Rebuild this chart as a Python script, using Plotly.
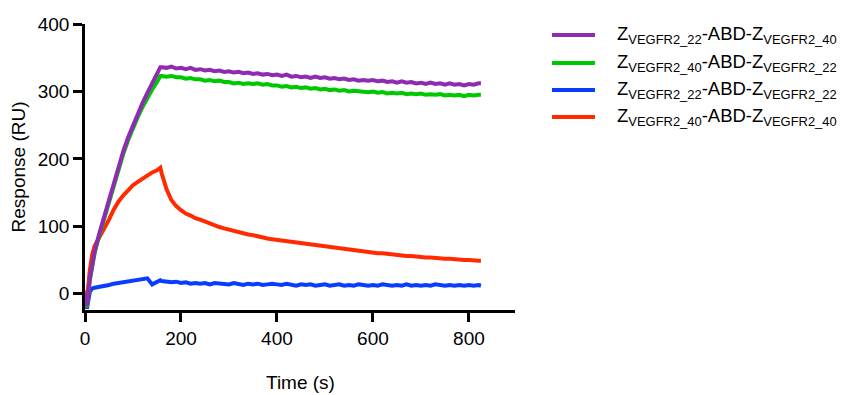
import plotly.graph_objects as go

time_s = [0, 4, 10, 15, 20, 30, 40, 50, 60, 70, 80, 90, 100, 110, 120, 130, 140, 150, 157,
          160, 170, 180, 190, 200, 210, 220, 230, 240, 250, 260, 270, 280, 290, 300,
          310, 320, 330, 340, 350, 360, 370, 380, 390, 400, 410, 420, 430, 440, 450,
          460, 470, 480, 490, 500, 510, 520, 530, 540, 550, 560, 570, 580, 590, 600,
          610, 620, 630, 640, 650, 660, 670, 680, 690, 700, 710, 720, 730, 740, 750,
          760, 770, 780, 790, 800, 810, 820, 825]

purple_22_40 = [0, -18, 22, 45, 63, 90, 115, 141, 166, 190, 212, 232, 250, 267, 283, 298, 311, 324, 336,
                336, 335, 337, 334, 335, 333, 335, 332, 333, 331, 332, 330, 331, 329, 330,
                328, 329, 327, 328, 326, 327, 325, 326, 324, 325, 323, 325, 322, 323, 321,
                322, 320, 322, 320, 321, 319, 320, 318, 319, 317, 318, 316, 317, 316, 317,
                315, 316, 314, 315, 313, 315, 313, 314, 312, 313, 311, 313, 311, 312, 310,
                312, 310, 311, 309, 311, 310, 312, 312]

green_40_22 = [-3, -20, 20, 43, 60, 87, 112, 137, 162, 186, 208, 228, 246, 262, 277, 291, 303, 314, 323,
               323, 322, 323, 321, 321, 319, 320, 318, 318, 316, 317, 315, 316, 314, 314,
               312, 313, 311, 312, 311, 312, 310, 311, 309, 309, 307, 308, 306, 307, 305,
               306, 304, 305, 303, 304, 302, 303, 301, 302, 300, 301, 300, 300, 299, 300,
               298, 299, 297, 298, 297, 298, 296, 297, 296, 297, 295, 296, 295, 296, 294,
               295, 294, 295, 293, 295, 294, 295, 295]

blue_22_22 = [-5, -22, 3, 8, 9, 10, 11, 13, 15, 16, 18, 19, 20, 21, 21, 23, 14, 18, 20,
              19, 18, 17, 18, 16, 17, 15, 16, 15, 16, 14, 16, 15, 15, 14,
              16, 15, 13, 15, 14, 15, 13, 14, 15, 14, 13, 15, 14, 12, 14,
              13, 14, 12, 13, 14, 12, 13, 14, 12, 13, 12, 14, 13, 12, 13,
              12, 14, 13, 12, 13, 12, 14, 12, 13, 12, 13, 12, 14, 13, 12,
              13, 12, 13, 12, 13, 12, 13, 12]

red_40_40 = [5, -8, 35, 58, 71, 84, 95, 110, 125, 137, 146, 154, 161, 166, 171, 176, 180, 183, 187,
             178, 155, 139, 130, 124, 119, 116, 112, 110, 107, 104, 101, 99, 97, 95,
             94, 92, 90, 88, 87, 85, 84, 82, 81, 80, 79, 78, 77, 76, 75,
             74, 73, 72, 71, 70, 69, 68, 67, 66, 65, 64, 63, 62, 62, 61,
             60, 60, 59, 58, 58, 57, 56, 56, 55, 55, 54, 54, 53, 53, 52,
             52, 51, 51, 50, 50, 49, 49, 49]

series_names = [
    "Z<sub>VEGFR2_22</sub>-ABD-Z<sub>VEGFR2_40</sub>",
    "Z<sub>VEGFR2_40</sub>-ABD-Z<sub>VEGFR2_22</sub>",
    "Z<sub>VEGFR2_22</sub>-ABD-Z<sub>VEGFR2_22</sub>",
    "Z<sub>VEGFR2_40</sub>-ABD-Z<sub>VEGFR2_40</sub>",
]
series_values = [purple_22_40, green_40_22, blue_22_22, red_40_40]
series_colors = ["#8E2BB2", "#00C800", "#0A3CFF", "#FF2A00"]

x_ticks = [0, 200, 400, 600, 800]
y_ticks = [0, 100, 200, 300, 400]
x_title = "Time (s)"
y_title = "Response (RU)"

FONT = "Liberation Sans, Arial, sans-serif"

fig = go.Figure()
# draw order: blue, red, green, purple (purple on top)
for i in [2, 3, 1, 0]:
    fig.add_trace(go.Scatter(
        x=time_s, y=series_values[i], mode="lines",
        line=dict(color=series_colors[i], width=4),
        name=series_names[i], showlegend=False,
    ))

# manual legend (shapes + annotations) to match the reference layout
leg_y = [0.9615, 0.8636, 0.769, 0.675]
for i in range(4):
    fig.add_shape(type="line", xref="paper", yref="paper",
                  x0=1.086, x1=1.186, y0=leg_y[i], y1=leg_y[i],
                  line=dict(color=series_colors[i], width=4))
    fig.add_annotation(xref="paper", yref="paper", x=1.233, y=leg_y[i],
                       xanchor="left", yanchor="middle", showarrow=False,
                       text=series_names[i],
                       font=dict(family=FONT, size=18.5, color="black"))

# x-axis title placed as an annotation for exact vertical position
fig.add_annotation(xref="paper", yref="paper", x=0.5, y=-0.255,
                   xanchor="center", yanchor="middle", showarrow=False,
                   text=x_title, font=dict(family=FONT, size=19, color="black"))

axis_common = dict(
    showline=True, linecolor="black", linewidth=2.5,
    ticks="outside", ticklen=9, tickwidth=2.5, tickcolor="black",
    showgrid=False, zeroline=False, automargin=False,
    tickfont=dict(family=FONT, size=19, color="black"),
)

fig.update_xaxes(range=[0, 896], tickvals=x_ticks, ticktext=[str(v) for v in x_ticks],
                 **axis_common)
fig.update_yaxes(range=[-24, 400], tickvals=y_ticks, ticktext=[str(v) for v in y_ticks],
                 title=dict(text=y_title, font=dict(family=FONT, size=19, color="black"), standoff=8),
                 **axis_common)

fig.update_layout(
    width=867, height=395,
    margin=dict(l=85, r=352, t=24, b=85),
    plot_bgcolor="white", paper_bgcolor="white",
    font=dict(family=FONT, color="black"),
)

# remove the default 8px page margin so the figure fills the window exactly
fig.write_html("out.html",
               config={"displayModeBar": False},
               post_script="document.body.style.margin='0';document.body.style.overflow='hidden';")
